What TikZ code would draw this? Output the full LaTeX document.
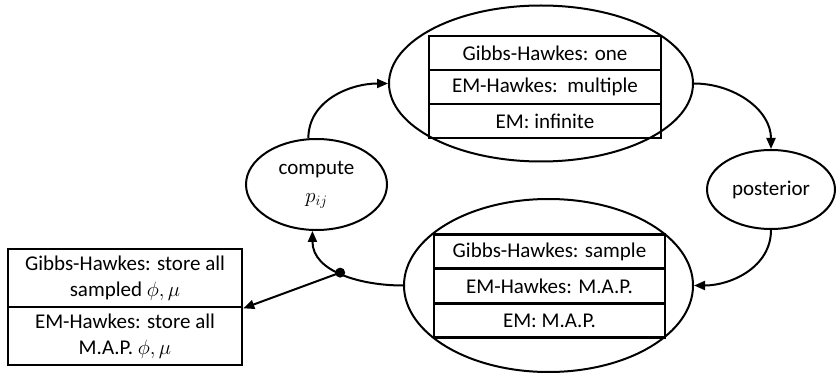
\documentclass[tikz,border=0pt]{standalone}
\usepackage{fontspec}
\setmainfont{Carlito}
\usetikzlibrary{arrows.meta,shapes.geometric}
\begin{document}
\begin{tikzpicture}[x=1pt,y=-1pt,
  font=\fontsize{21}{26}\selectfont,
  ell/.style={draw, ellipse, line width=2pt, inner sep=0pt},
  rowbox/.style={draw, line width=2.6pt, minimum width=232pt, minimum height=34pt, inner sep=0pt},
  sidebox/.style={draw, line width=2.6pt, minimum width=234pt, minimum height=58pt, inner sep=0pt, align=center},
  conn/.style={line width=2pt, -{Triangle[length=11pt,width=9pt]}}]
\useasboundingbox (0,0) rectangle (838,374);
% ellipses
\node[ell, minimum width=304pt, minimum height=156pt] (top) at (541,83.5) {};
\node[ell, minimum width=289pt, minimum height=173pt] (bot) at (548.5,285.5) {};
\node[ell, minimum width=128pt, minimum height=79pt] (post) at (771,189.5) {posterior};
\node[ell, minimum width=141pt, minimum height=91pt, align=center] (cmp) at (316.5,184.5) {compute\\[2pt]$p_{ij}$};
% top boxes
\node[rowbox] (t1) at (545,53) {Gibbs-Hawkes: one};
\node[rowbox] (t2) at (545,87) {EM-Hawkes:\ \ multiple};
\node[rowbox] (t3) at (545,121) {EM: infinite};
% bottom boxes
\node[rowbox, minimum width=231pt] (b1) at (549.5,251.5) {Gibbs-Hawkes: sample};
\node[rowbox, minimum width=231pt] (b2) at (549.5,286) {EM-Hawkes: M.A.P.};
\node[rowbox, minimum width=231pt] (b3) at (549.5,320.5) {EM: M.A.P.};
% left boxes
\node[sidebox] (l1) at (125,278) {Gibbs-Hawkes: store all\\sampled $\phi,\mu$};
\node[sidebox] (l2) at (125,336) {EM-Hawkes: store all\\M.A.P. $\phi,\mu$};
% connectors
\draw[conn] (cmp.100) to[out=90,in=180] (top.west);
\draw[conn] (top.east) to[out=0,in=90] (post.north);
\draw[conn] (post.south) to[out=-90,in=0] (bot.east);
\draw[conn] (bot.west) to[out=180,in=-90] coordinate[pos=0.52] (dot) (cmp.265);
\fill (dot) circle (5pt);
\draw[conn] (dot) -- (l1.south east);
\end{tikzpicture}
\end{document}
